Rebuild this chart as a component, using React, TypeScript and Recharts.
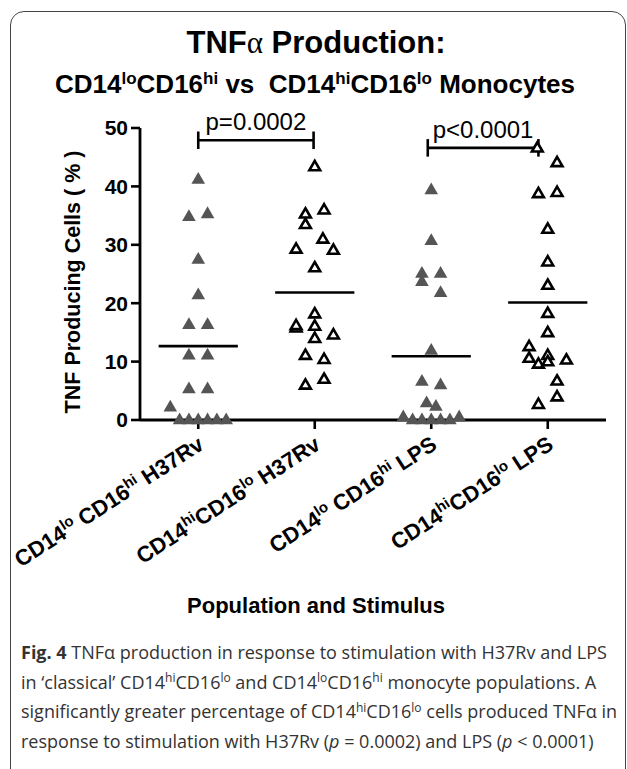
import React from "react";
import { ScatterChart, Scatter, XAxis, YAxis, ReferenceLine, ReferenceDot } from "recharts";

// x tick labels, ^{..} marks a superscript
const categories = [
  "CD14^{lo} CD16^{hi} H37Rv",
  "CD14^{hi}CD16^{lo} H37Rv",
  "CD14^{lo} CD16^{hi} LPS",
  "CD14^{hi}CD16^{lo} LPS",
];
const yTicks = [0, 10, 20, 30, 40, 50];

// TNF producing cells (%) per donor
const loH37Rv = [41.2, 34.8, 35.3, 27.5, 21.4, 16.3, 16.3, 11.1, 11.1, 5.3, 5.3, 2.2, 0, 0, 0, 0, 0, 0];
const hiH37Rv = [43.4, 36.0, 35.3, 33.5, 31.0, 29.1, 29.3, 26.1, 18.2, 15.8, 16.2, 16.1, 14.0, 14.6, 11.1, 10.4, 6.0, 7.0];
const loLPS = [39.4, 30.7, 25.1, 25.1, 23.7, 21.8, 11.9, 6.6, 6.0, 2.9, 2.3, 0.5, 0, 0, 0, 0, 0, 0.5];
const hiLPS = [46.6, 44.1, 38.8, 39.0, 32.7, 27.1, 23.1, 18.3, 15.0, 12.6, 10.6, 9.6, 11.1, 10.0, 10.3, 6.7, 4.0, 2.7];

// horizontal scatter of each point around its column (category units)
const loH37RvJitter = [0, -0.08, 0.08, 0, 0, -0.08, 0.08, -0.08, 0.08, -0.08, 0.08, -0.24, -0.16, -0.08, 0, 0.08, 0.16, 0.24];
const hiH37RvJitter = [0, 0.08, -0.08, -0.08, 0.07, 0.16, -0.16, 0, 0, -0.16, -0.16, 0, 0, 0.16, -0.08, 0.08, -0.08, 0.08];
const loLPSJitter = [0, 0, -0.08, 0.08, -0.08, 0.08, 0, -0.08, 0.08, -0.04, 0.04, -0.24, -0.16, -0.08, 0, 0.08, 0.16, 0.24];
const hiLPSJitter = [-0.09, 0.08, -0.08, 0.08, 0, 0, 0, 0, 0, -0.16, -0.16, -0.08, 0, 0, 0.16, 0.08, 0.08, -0.08];

// significance brackets: [from column, to column, height, label]
const brackets: [number, number, number, string][] = [
  [1, 1.99, 47.9, "p=0.0002"],
  [2.97, 3.92, 46.6, "p<0.0001"],
];

const toPoints = (vals: number[], jit: number[], col: number) =>
  vals.map((v, i) => ({ x: col + jit[i], y: v }));

const mean = (vals: number[]) => vals.reduce((a, b) => a + b, 0) / vals.length;

const filledData = [...toPoints(loH37Rv, loH37RvJitter, 1), ...toPoints(loLPS, loLPSJitter, 3)];
const openData = [...toPoints(hiH37Rv, hiH37RvJitter, 2), ...toPoints(hiLPS, hiLPSJitter, 4)];
const groups = [loH37Rv, hiH37Rv, loLPS, hiLPS];

const FONT = "'Liberation Sans', Arial, sans-serif";

const FilledTri = (props: any) => {
  const { cx, cy } = props;
  return <polygon points={`${cx},${cy - 7.5} ${cx + 6.8},${cy + 4.3} ${cx - 6.8},${cy + 4.3}`} fill="#555" />;
};

const OpenTri = (props: any) => {
  const { cx, cy } = props;
  return (
    <polygon
      points={`${cx},${cy - 5.6} ${cx + 5.4},${cy + 3.7} ${cx - 5.4},${cy + 3.7}`}
      fill="#fff"
      stroke="#000"
      strokeWidth={2.6}
    />
  );
};

// split "^{..}" superscripts into tspans, shifting the next run back down
function parts(label: string, size: number, supSize: number, rise: number) {
  const out: React.ReactNode[] = [];
  let back = 0;
  label.split(/(\^\{[^}]*\})/).forEach((p, i) => {
    if (!p) return;
    if (p.startsWith("^{")) {
      out.push(
        <tspan key={i} dy={back - rise} fontSize={supSize}>
          {p.slice(2, -1)}
        </tspan>
      );
      back = rise;
    } else {
      out.push(
        <tspan key={i} dy={back || undefined} fontSize={size}>
          {p}
        </tspan>
      );
      back = 0;
    }
  });
  return out;
}

const CategoryTick = (props: any) => {
  const { x, y, payload } = props;
  const label = categories[Math.round(payload.value) - 1];
  if (!label) return null;
  return (
    <g transform={`translate(${x + 7},${y + 17}) rotate(-33)`}>
      <text textAnchor="end" fontFamily={FONT} fontWeight="bold" fill="#000" xmlSpace="preserve">
        {parts(label, 22, 15, 8)}
      </text>
    </g>
  );
};

// caption runs: b bold, i italic, s superscript, "" plain
const caption = [
  [["b", "Fig. 4"], ["", " TNFα production in response to stimulation with H37Rv and LPS"]],
  [["", "in ‘classical’ CD14"], ["s", "hi"], ["", "CD16"], ["s", "lo"], ["", " and CD14"], ["s", "lo"], ["", "CD16"], ["s", "hi"], ["", " monocyte populations. A"]],
  [["", "significantly greater percentage of CD14"], ["s", "hi"], ["", "CD16"], ["s", "lo"], ["", " cells produced TNFα in"]],
  [["", "response to stimulation with H37Rv ("], ["i", "p"], ["", " = 0.0002) and LPS ("], ["i", "p"], ["", " < 0.0001)"]],
];

function captionLine(line: string[][]) {
  let back = 0;
  return line.map(([k, s], j) => {
    if (k === "s") {
      const el = (
        <tspan key={j} dy={back - 6.5} fontSize={12}>
          {s}
        </tspan>
      );
      back = 6.5;
      return el;
    }
    const el = (
      <tspan
        key={j}
        dy={back || undefined}
        fontWeight={k === "b" ? "bold" : undefined}
        fontStyle={k === "i" ? "italic" : undefined}
      >
        {s}
      </tspan>
    );
    back = 0;
    return el;
  });
}

export default function App() {
  return (
    <div style={{ position: "absolute", left: 0, top: 0, width: 627, height: 769, background: "#fff", overflow: "hidden" }}>
      <div
        style={{
          position: "absolute",
          left: 10,
          top: 11,
          width: 614,
          height: 820,
          border: "1.5px solid #444",
          borderRadius: 14,
        }}
      />
      <div style={{ position: "absolute", left: 0, top: 0 }}>
        <ScatterChart width={627} height={769} margin={{ top: 128, right: 21, bottom: 199, left: 90 }}>
          <XAxis
            type="number"
            dataKey="x"
            domain={[0.5, 4.5]}
            ticks={[1, 2, 3, 4]}
            interval={0}
            height={150}
            tick={<CategoryTick />}
            tickSize={9}
            axisLine={{ stroke: "#000", strokeWidth: 2.8 }}
            tickLine={{ stroke: "#000", strokeWidth: 2.6 }}
          />
          <YAxis
            type="number"
            dataKey="y"
            domain={[0, 50]}
            ticks={yTicks}
            width={50}
            tickSize={9}
            tickMargin={3}
            tick={{ fill: "#000", fontSize: 21, fontWeight: "bold", fontFamily: FONT }}
            axisLine={{ stroke: "#000", strokeWidth: 2.8 }}
            tickLine={{ stroke: "#000", strokeWidth: 2.6 }}
          />
          {groups.map((vals, i) => (
            <ReferenceLine
              key={"m" + i}
              segment={[
                { x: i + 1 - 0.34, y: mean(vals) },
                { x: i + 1 + 0.34, y: mean(vals) },
              ]}
              stroke="#000"
              strokeWidth={2.6}
            />
          ))}
          {brackets.map(([a, b, h], i) => (
            <ReferenceLine key={"b" + i} segment={[{ x: a, y: h }, { x: b, y: h }]} stroke="#000" strokeWidth={2.6} />
          ))}
          {brackets.map(([a, , h], i) => (
            <ReferenceLine key={"bl" + i} segment={[{ x: a, y: h - 1.5 }, { x: a, y: h + 1.5 }]} stroke="#000" strokeWidth={2.6} />
          ))}
          {brackets.map(([, b, h], i) => (
            <ReferenceLine key={"br" + i} segment={[{ x: b, y: h - 1.5 }, { x: b, y: h + 1.5 }]} stroke="#000" strokeWidth={2.6} />
          ))}
          {brackets.map(([a, b, h, t], i) => (
            <ReferenceDot
              key={"p" + i}
              x={(a + b) / 2}
              y={h}
              r={0}
              fill="none"
              stroke="none"
              label={{ value: t, position: "top", offset: 10, fill: "#000", fontSize: 24, fontFamily: FONT }}
            />
          ))}
          <Scatter data={filledData} shape={<FilledTri />} isAnimationActive={false} />
          <Scatter data={openData} shape={<OpenTri />} isAnimationActive={false} />
        </ScatterChart>
      </div>
      <svg width={627} height={769} style={{ position: "absolute", left: 0, top: 0, pointerEvents: "none" }}>
        <text x={316} y={53} textAnchor="middle" fontFamily={FONT} fontWeight="bold" fontSize={31} fill="#000">
          TNF<tspan fontFamily="'Liberation Serif', serif" fontWeight="normal">α</tspan> Production:
        </text>
        <text x={315} y={93} textAnchor="middle" fontFamily={FONT} fontWeight="bold" fill="#000" xmlSpace="preserve">
          {parts("CD14^{lo}CD16^{hi} vs  CD14^{hi}CD16^{lo} Monocytes", 26, 17, 9)}
        </text>
        <text
          transform="translate(80,282) rotate(-90)"
          textAnchor="middle"
          fontFamily={FONT}
          fontWeight="bold"
          fontSize={21.5}
          fill="#000"
          xmlSpace="preserve"
        >
          TNF Producing Cells ( % )
        </text>
        <text x={316} y={613} textAnchor="middle" fontFamily={FONT} fontWeight="bold" fontSize={22} fill="#000">
          Population and Stimulus
        </text>
        {caption.map((line, li) => (
          <text key={li} x={21} y={659 + li * 29.7} fontFamily="'Open Sans', sans-serif" fontSize={18} fill="#333">
            {captionLine(line)}
          </text>
        ))}
      </svg>
    </div>
  );
}
